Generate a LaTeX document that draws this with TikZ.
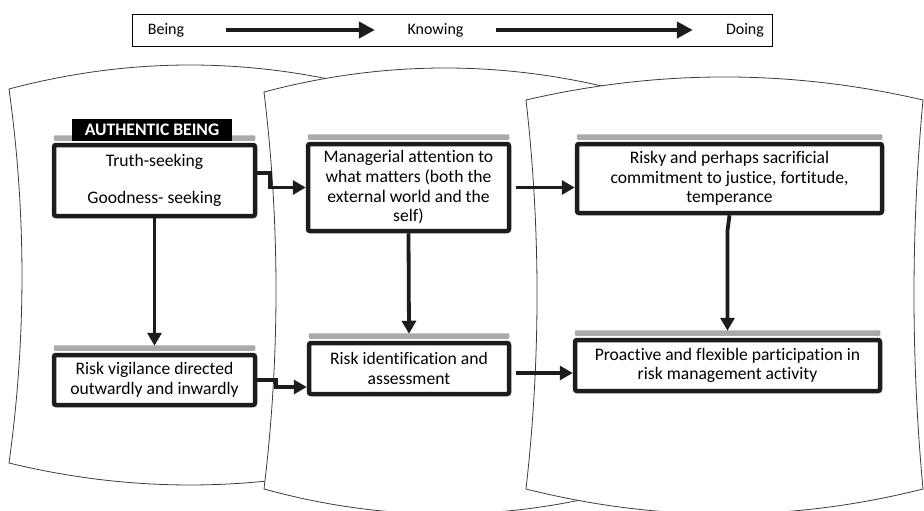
\documentclass[tikz,border=0pt]{standalone}
\usepackage{fontspec}
\setmainfont{Carlito}[Ligatures=NoCommon]
\usetikzlibrary{arrows.meta}
\definecolor{barcol}{RGB}{170,170,170}
\definecolor{edgecol}{RGB}{28,28,28}
\definecolor{linecol}{RGB}{60,60,60}

\begin{document}
\begin{tikzpicture}[x=1pt,y=1pt]
    \tikzstyle{every node}+=[inner sep=0pt]
    \tikzstyle{panel}=[draw=linecol, line width=0.8pt, fill=white]
    \tikzstyle{box}=[draw=edgecol, line width=4.5pt, fill=white, rounded corners=2pt, align=center, font=\fontsize{17.6}{19.6}\selectfont]
    \tikzstyle{flow}=[draw=edgecol, line width=3.8pt, -{Triangle[length=13pt,width=14pt]}]
    \tikzstyle{trend}=[draw=edgecol, line width=4pt, -{Triangle[length=16pt,width=16pt]}]
    \useasboundingbox (0,0) rectangle (924,-511);
    \clip (0,0) rectangle (924,-511);
    % banner
    \node [draw=black, line width=0.8pt, minimum width=640pt, minimum height=32pt] (banner) at (452,-30) {};
    \node [font=\fontsize{16}{19}\selectfont] (being) at (166,-30) {Being};
    \node [font=\fontsize{16}{19}\selectfont] (knowing) at (435.5,-30) {Knowing};
    \node [font=\fontsize{16}{19}\selectfont] (doing) at (745,-30) {Doing};
    \draw [trend, shorten <=42pt, shorten >=32.5pt] (being.east) -- (knowing.west);
    \draw [trend, shorten <=32.5pt, shorten >=33pt] (knowing.east) -- (doing.west);
    % panels
    \draw [panel] (9,-89) .. controls (129.7,-57) and (250.3,-57) .. (371,-89)
        .. controls (354,-213.7) and (354,-338.3) .. (371,-463)
        .. controls (250.3,-492.3) and (129.7,-492.3) .. (9,-463)
        .. controls (26.3,-338.3) and (26.3,-213.7) .. (9,-89) -- cycle;
    \draw [panel] (264,-92) .. controls (384.7,-60) and (505.3,-60) .. (626,-92)
        .. controls (610,-224.3) and (610,-356.7) .. (626,-489)
        .. controls (505.3,-522.3) and (384.7,-522.3) .. (264,-489)
        .. controls (280,-356.7) and (280,-224.3) .. (264,-92) -- cycle;
    \draw [panel] (526,-100) .. controls (658.3,-69.3) and (790.7,-69.3) .. (923,-100)
        .. controls (911,-229.7) and (911,-359.3) .. (923,-489)
        .. controls (790.7,-522.3) and (658.3,-522.3) .. (526,-489)
        .. controls (540.7,-359.3) and (540.7,-229.7) .. (526,-100) -- cycle;
    % boxes
    \node [box, minimum width=201pt, minimum height=71pt] (truth) at (154.5,-180.5) {Truth-seeking\\[18pt]Goodness- seeking};
    \node [box, minimum width=201pt, minimum height=87pt] (attention) at (408.5,-187.5) {Managerial attention to\\what matters (both the\\external world and the\\self)};
    \node [box, minimum width=305pt, minimum height=69pt] (commit) at (729.5,-178.5) {Risky and perhaps sacrificial\\commitment to justice, fortitude,\\temperance};
    \node [box, minimum width=201pt, minimum height=50pt] (vigil) at (154.5,-380) {Risk vigilance directed\\outwardly and inwardly};
    \node [box, minimum width=200pt, minimum height=51pt] (identify) at (409,-368.5) {Risk identification and\\assessment};
    \node [box, minimum width=305pt, minimum height=51pt] (proactive) at (727.5,-365.5) {Proactive and flexible participation in\\risk management activity};
    \foreach \n in {truth,attention,commit,vigil,identify,proactive}
        \fill [barcol, rounded corners=1pt] ([xshift=2pt,yshift=2pt]\n.north west) rectangle ([xshift=-2pt,yshift=7.5pt]\n.north east);
    \node [fill=black, text=white, font=\bfseries\fontsize{17.6}{19.6}\selectfont, minimum width=160pt, minimum height=22pt] (authentic) at (152,-130) {AUTHENTIC BEING};
    % connectors
    \draw [flow] ([yshift=7.5pt]truth.east) -- ++(13,0) |- (attention.west);
    \draw [flow] ([xshift=5pt]attention.east) -- (attention.east -| commit.west);
    \draw [flow] (truth.south) -- ([yshift=7pt]vigil.north);
    \draw [flow] (attention.south) -- ([yshift=7pt]identify.north);
    \draw [flow] (commit.south) -- ++(-2,-15) -- ([yshift=7pt]proactive.north);
    \draw [flow] (vigil.east) -- ++(19,0) |- ([yshift=-18.5pt]identify.west);
    \coordinate (ef) at ([xshift=5pt,yshift=-4.5pt]identify.east);
    \draw [flow] (ef) -- (ef -| proactive.west);
\end{tikzpicture}
\end{document}
